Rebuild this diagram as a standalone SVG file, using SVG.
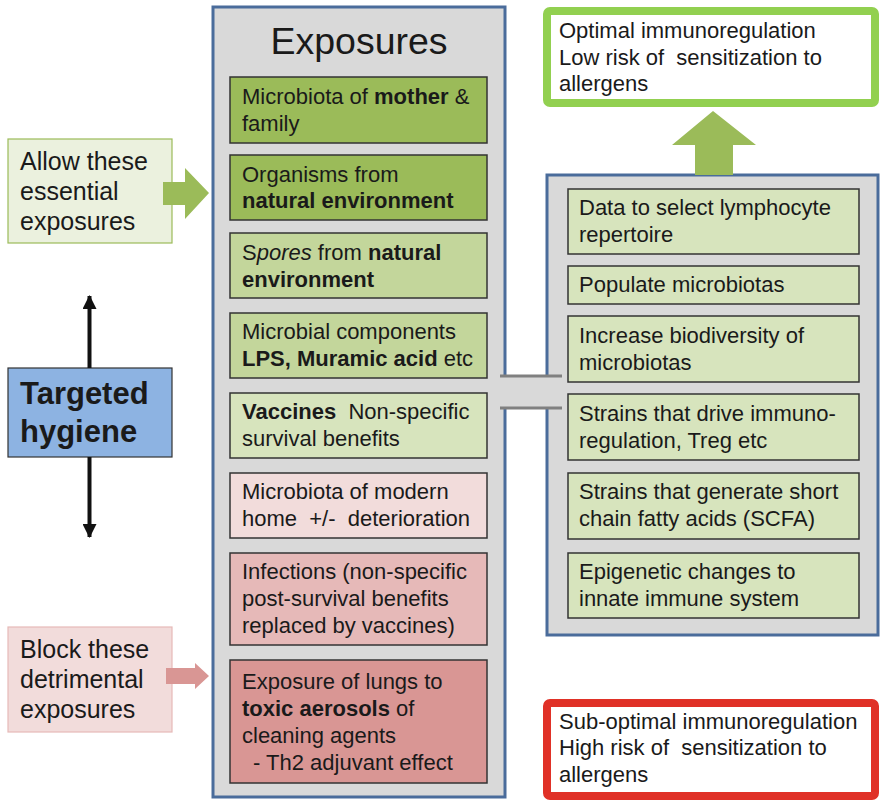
<svg xmlns="http://www.w3.org/2000/svg" width="880" height="801" viewBox="0 0 880 801" xml:space="preserve">
  <defs>
    <style>
      .t { font-family: "Liberation Sans", Arial, sans-serif; font-size: 22px; fill: #1a1a1a; white-space: pre; }
      .side { font-size: 25px; }
      .b { font-weight: bold; }
      .i { font-style: italic; }
      .panel { fill: #d9d9d9; stroke: #4a6c9b; stroke-width: 3; }
      .item { stroke: #333333; stroke-width: 1.5; }
      .g1 { fill: #9bbb59; }
      .g2 { fill: #c3d69b; }
      .g3 { fill: #d7e4bd; }
      .r1 { fill: #f2dcdb; }
      .r2 { fill: #e6b9b8; }
      .r3 { fill: #d99694; }
    </style>
    <marker id="headBlack" viewBox="0 0 14 14" refX="13" refY="7" markerWidth="14" markerHeight="14" markerUnits="userSpaceOnUse" orient="auto">
      <path d="M0,0 L14,7 L0,14 Z" fill="#111111"/>
    </marker>
  </defs>

  <rect width="880" height="801" fill="#ffffff"/>

  <!-- Exposures panel -->
  <g id="exposures">
    <rect class="panel" x="213" y="7" width="292" height="790"/>
    <text class="t" x="359" y="54" text-anchor="middle" style="font-size:37.5px">Exposures</text>
  </g>

  <g id="exp-mother">
    <rect class="item g1" x="230" y="77" width="257" height="66"/>
    <text class="t" x="242" y="104">Microbiota of <tspan class="b">mother</tspan> &amp;</text>
    <text class="t" x="242" y="131">family</text>
  </g>
  <g id="exp-organisms">
    <rect class="item g1" x="230" y="155" width="257" height="65"/>
    <text class="t" x="242" y="182">Organisms from</text>
    <text class="t b" x="242" y="208">natural environment</text>
  </g>
  <g id="exp-spores">
    <rect class="item g2" x="230" y="233" width="257" height="65"/>
    <text class="t" x="242" y="260">S<tspan class="i">pores</tspan> from <tspan class="b">natural</tspan></text>
    <text class="t b" x="242" y="287">environment</text>
  </g>
  <g id="exp-components">
    <rect class="item g2" x="230" y="313" width="257" height="65"/>
    <text class="t" x="242" y="339">Microbial components</text>
    <text class="t" x="242" y="366"><tspan class="b">LPS, Muramic acid</tspan> etc</text>
  </g>
  <g id="exp-vaccines">
    <rect class="item g3" x="230" y="393" width="257" height="65"/>
    <text class="t" x="242" y="419"><tspan class="b">Vaccines</tspan>  Non-specific</text>
    <text class="t" x="242" y="446">survival benefits</text>
  </g>
  <g id="exp-home">
    <rect class="item r1" x="230" y="473" width="257" height="65"/>
    <text class="t" x="242" y="499">Microbiota of modern</text>
    <text class="t" x="242" y="526">home  +/-  deterioration</text>
  </g>
  <g id="exp-infections">
    <rect class="item r2" x="230" y="553" width="257" height="92"/>
    <text class="t" x="242" y="579">Infections (non-specific</text>
    <text class="t" x="242" y="606">post-survival benefits</text>
    <text class="t" x="242" y="633">replaced by vaccines)</text>
  </g>
  <g id="exp-aerosols">
    <rect class="item r3" x="230" y="660" width="257" height="123"/>
    <text class="t" x="242" y="689">Exposure of lungs to</text>
    <text class="t" x="242" y="716"><tspan class="b">toxic aerosols</tspan> of</text>
    <text class="t" x="242" y="743">cleaning agents</text>
    <text class="t" x="253" y="770">- Th2 adjuvant effect</text>
  </g>

  <!-- Effects panel -->
  <g id="effects">
    <rect class="panel" x="547" y="175" width="331" height="460"/>
  </g>
  <g id="eff-lymphocyte">
    <rect class="item g3" x="568" y="189" width="291" height="65"/>
    <text class="t" x="579" y="215">Data to select lymphocyte</text>
    <text class="t" x="579" y="242">repertoire</text>
  </g>
  <g id="eff-populate">
    <rect class="item g3" x="568" y="266" width="291" height="38"/>
    <text class="t" x="579" y="292">Populate microbiotas</text>
  </g>
  <g id="eff-biodiversity">
    <rect class="item g3" x="568" y="316" width="291" height="66"/>
    <text class="t" x="579" y="343">Increase biodiversity of</text>
    <text class="t" x="579" y="370">microbiotas</text>
  </g>
  <g id="eff-treg">
    <rect class="item g3" x="568" y="394" width="291" height="66"/>
    <text class="t" x="579" y="421">Strains that drive immuno-</text>
    <text class="t" x="579" y="448">regulation, Treg etc</text>
  </g>
  <g id="eff-scfa">
    <rect class="item g3" x="568" y="473" width="291" height="66"/>
    <text class="t" x="579" y="499">Strains that generate short</text>
    <text class="t" x="579" y="526">chain fatty acids (SCFA)</text>
  </g>
  <g id="eff-epigenetic">
    <rect class="item g3" x="568" y="553" width="291" height="65"/>
    <text class="t" x="579" y="579">Epigenetic changes to</text>
    <text class="t" x="579" y="606">innate immune system</text>
  </g>

  <!-- Outcomes -->
  <g id="outcome-optimal">
    <rect x="547" y="11" width="328" height="92" rx="3" fill="#ffffff" stroke="#92d050" stroke-width="8"/>
    <text class="t" x="559" y="38">Optimal immunoregulation</text>
    <text class="t" x="559" y="65">Low risk of  sensitization to</text>
    <text class="t" x="559" y="91">allergens</text>
  </g>
  <g id="outcome-suboptimal">
    <rect x="547" y="703" width="328" height="93" rx="3" fill="#ffffff" stroke="#e03127" stroke-width="8"/>
    <text class="t" x="559" y="729">Sub-optimal immunoregulation</text>
    <text class="t" x="559" y="755">High risk of  sensitization to</text>
    <text class="t" x="559" y="782">allergens</text>
  </g>

  <!-- Side labels -->
  <g id="allow">
    <rect x="8" y="139" width="164" height="104" fill="#ebf1de" stroke="#9bbb59" stroke-width="1.2"/>
    <text class="t side" x="20" y="170">Allow these</text>
    <text class="t side" x="20" y="200">essential</text>
    <text class="t side" x="20" y="230">exposures</text>
  </g>
  <g id="targeted-hygiene">
    <rect x="8" y="368" width="164" height="89" fill="#8db3e2" stroke="#333333" stroke-width="1.2"/>
    <text class="t b" x="20" y="404" style="font-size:31px">Targeted</text>
    <text class="t b" x="20" y="442" style="font-size:31px">hygiene</text>
  </g>
  <g id="block">
    <rect x="8" y="627" width="164" height="105" fill="#f2dcdb" stroke="#e6b9b8" stroke-width="1.2"/>
    <text class="t side" x="20" y="658">Block these</text>
    <text class="t side" x="20" y="688">detrimental</text>
    <text class="t side" x="20" y="718">exposures</text>
  </g>

  <!-- Connectors -->
  <g id="connectors">
    <!-- bridge joining the two panels -->
    <rect x="502" y="376" width="50" height="32" fill="#d9d9d9"/>
    <line x1="500" y1="376" x2="562" y2="376" stroke="#808080" stroke-width="3"/>
    <line x1="500" y1="408" x2="562" y2="408" stroke="#808080" stroke-width="3"/>
    <!-- block arrows -->
    <path d="M163,182 L185,182 L185,168 L209,193 L185,219 L185,205 L163,205 Z" fill="#9bbb59"/>
    <path d="M166,668 L195,668 L195,663 L209,676 L195,689 L195,684 L166,684 Z" fill="#d99694"/>
    <path d="M695,175 L695,145 L672,145 L713,111 L756,145 L733,145 L733,175 Z" fill="#9bbb59"/>
    <!-- double-headed vertical arrow -->
    <line x1="89.5" y1="368" x2="89.5" y2="296" stroke="#111111" stroke-width="4" marker-end="url(#headBlack)"/>
    <line x1="89.5" y1="457" x2="89.5" y2="537" stroke="#111111" stroke-width="4" marker-end="url(#headBlack)"/>
  </g>
</svg>
